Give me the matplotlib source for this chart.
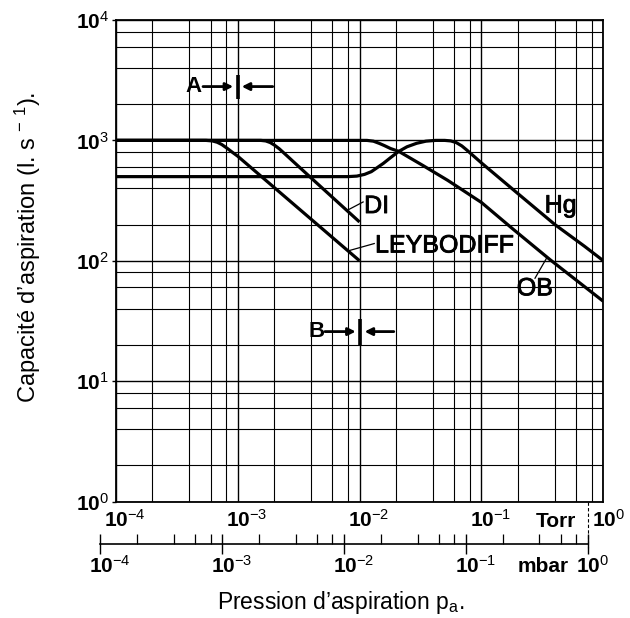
import matplotlib
matplotlib.use("Agg")
import matplotlib.pyplot as plt
from matplotlib.ticker import LogLocator, NullFormatter, FixedLocator
from matplotlib import patheffects as pe

plt.rcParams['font.family'] = ['Liberation Sans', 'DejaVu Sans']
plt.rcParams['mathtext.fontset'] = 'custom'
plt.rcParams['mathtext.rm'] = 'Liberation Sans'
plt.rcParams['mathtext.it'] = 'Liberation Sans:italic'
plt.rcParams['mathtext.bf'] = 'Liberation Sans:bold'

# pression (Torr) / capacite d'aspiration (l/s)
torr_leybodiff = [1e-4, 5.5e-4, 6.2e-4, 6.8e-4, 7.4e-4, 8.2e-4, 9.0e-4, 1.0e-3, 1.0e-2]
s_leybodiff = [1000, 1000, 990, 965, 925, 860, 800, 740, 100]

torr_di = [1e-4, 1.55e-3, 1.7e-3, 1.85e-3, 2.0e-3, 2.2e-3, 2.45e-3, 3.9e-3, 1.0e-2]
s_di = [1000, 1000, 990, 960, 915, 850, 770, 500, 210]

torr_ob = [1e-4, 1.15e-2, 1.3e-2, 1.45e-2, 1.6e-2, 1.8e-2, 2.1e-2, 3.3e-2, 5.3e-2,
           0.1, 0.183, 0.366, 1.0]
s_ob = [1000, 1000, 985, 945, 905, 855, 810, 620, 465, 305, 182, 102, 46]

torr_hg = [1e-4, 8.0e-3, 9.5e-3, 1.1e-2, 1.25e-2, 1.4e-2, 1.57e-2, 1.8e-2, 2.08e-2,
           2.45e-2, 2.94e-2, 3.5e-2, 4.2e-2, 5.0e-2, 5.6e-2, 6.2e-2, 6.9e-2, 7.6e-2,
           0.1, 0.2, 0.4, 0.7, 1.0]
s_hg = [500, 500, 505, 522, 550, 595, 645, 720, 806,
        885, 946, 985, 1000, 1000, 990, 960, 900, 830,
        650, 360, 200, 132, 100]

decades = [1e-4, 1e-3, 1e-2, 1e-1, 1e0]
decade_labels = [r'$\mathbf{10}^{-4}$', r'$\mathbf{10}^{-3}$', r'$\mathbf{10}^{-2}$',
                 r'$\mathbf{10}^{-1}$', r'$\mathbf{10}^{0}$']
y_decades = [1e0, 1e1, 1e2, 1e3, 1e4]
y_labels = [r'$\mathbf{10}^{0}$', r'$\mathbf{10}^{1}$', r'$\mathbf{10}^{2}$',
            r'$\mathbf{10}^{3}$', r'$\mathbf{10}^{4}$']
torr_per_mbar = 0.75

fig = plt.figure(figsize=(6.3, 6.18), dpi=100)
ax = fig.add_axes([0.1837, 0.1885, 0.7740, 0.7791])
ax.set_xscale('log')
ax.set_yscale('log')
ax.set_xlim(1e-4, 1)
ax.set_ylim(1, 1e4)

# grille 1-2-4-6-8
ax.xaxis.set_minor_locator(LogLocator(base=10, subs=[2, 4, 6, 8]))
ax.yaxis.set_minor_locator(LogLocator(base=10, subs=[2, 4, 6, 8]))
ax.xaxis.set_minor_formatter(NullFormatter())
ax.yaxis.set_minor_formatter(NullFormatter())
ax.grid(True, which='major', color='black', lw=1.0)
ax.grid(True, which='minor', color='black', lw=0.8)
for sp in ax.spines.values():
    sp.set_linewidth(1.3)

ax.set_xticks(decades)
ax.set_xticklabels([])
ax.tick_params(axis='x', which='both', length=0)
ax.set_yticks(y_decades)
ax.set_yticklabels(y_labels, fontsize=15)
ax.tick_params(axis='y', which='major', length=3, width=1, pad=2)
ax.tick_params(axis='y', which='minor', length=0)

curve_kw = dict(color='black', lw=2.3, solid_capstyle='butt', solid_joinstyle='round')
ax.plot(torr_leybodiff, s_leybodiff, **curve_kw)
ax.plot(torr_di, s_di, **curve_kw)
ax.plot(torr_ob, s_ob, **curve_kw)
ax.plot(torr_hg, s_hg, **curve_kw)

# etiquettes des courbes
lab_kw = dict(fontsize=18, color='black',
              path_effects=[pe.withStroke(linewidth=0.6, foreground='black')])
ax.text(1.09e-2, 285, 'DI', va='center', ha='left', **lab_kw)
ax.text(1.34e-2, 134, 'LEYBODIFF', va='center', ha='left', **lab_kw)
ax.text(0.33, 288, 'Hg', va='center', ha='left', **lab_kw)
ax.text(0.195, 59, 'OB', va='center', ha='left', **lab_kw)
ax.plot([1.07e-2, 7.9e-3], [308, 262], color='black', lw=0.9)
ax.plot([1.32e-2, 8.1e-3], [139, 121], color='black', lw=0.9)
ax.plot([0.275, 0.344], [71.6, 106], color='black', lw=0.9)

# reperes A et B
arrow_kw = dict(arrowstyle='-|>', color='black', lw=2.0, mutation_scale=11,
                shrinkA=0, shrinkB=0)
ax.plot([1e-3, 1e-3], [2195, 3490], color='black', lw=2.6, solid_capstyle='butt')
ax.annotate('', xy=(9.2e-4, 2800), xytext=(5.2e-4, 2800), arrowprops=arrow_kw)
ax.annotate('', xy=(1.08e-3, 2800), xytext=(1.94e-3, 2800), arrowprops=arrow_kw)
ax.text(4.35e-4, 2800, 'A', fontsize=16, fontweight='bold', ha='center', va='center')
ax.plot([1e-2, 1e-2], [20, 33], color='black', lw=2.6, solid_capstyle='butt')
ax.annotate('', xy=(9.3e-3, 25.8), xytext=(5.2e-3, 25.8), arrowprops=arrow_kw)
ax.annotate('', xy=(1.1e-2, 25.8), xytext=(1.91e-2, 25.8), arrowprops=arrow_kw)
ax.text(4.4e-3, 25.8, 'B', fontsize=16, fontweight='bold', ha='center', va='center')

# echelle en Torr
for v, lab in zip(decades, decade_labels):
    ax.annotate(lab, xy=(v, 0), xycoords=('data', 'axes fraction'), xytext=(-8.3, -18.5),
                textcoords='offset points', ha='left', va='baseline', fontsize=15,
                annotation_clip=False)
ax.annotate('Torr', xy=(0.862, 0), xycoords='axes fraction', xytext=(0, -18.5),
            textcoords='offset points', ha='left', va='baseline', fontsize=15,
            fontweight='bold')
ax.plot([torr_per_mbar, torr_per_mbar], [0, -0.096], transform=ax.get_xaxis_transform(),
        color='black', lw=0.8, ls=(0, (3, 2)), clip_on=False)

# echelle en mbar
axm = fig.add_axes([0.1595, 1 - 544 / 618, 0.7738, 0.0001])
axm.set_xscale('log')
axm.set_xlim(1e-4, 1)
axm.set_yticks([])
for s in ['top', 'left', 'right']:
    axm.spines[s].set_visible(False)
axm.spines['bottom'].set_linewidth(1.2)
axm.xaxis.set_major_locator(FixedLocator(decades))
axm.xaxis.set_minor_locator(LogLocator(base=10, subs=[2, 4, 6, 8]))
axm.xaxis.set_major_formatter(NullFormatter())
axm.xaxis.set_minor_formatter(NullFormatter())
axm.tick_params(axis='x', which='major', direction='inout', length=14, width=1)
axm.tick_params(axis='x', which='minor', direction='in', length=7, width=0.9)
for v, lab in zip(decades, decade_labels):
    axm.annotate(lab, xy=(v, 0), xycoords=('data', 'axes fraction'), xytext=(-8.3, -20.5),
                 textcoords='offset points', ha='left', va='baseline', fontsize=15,
                 annotation_clip=False)
axm.annotate('mbar', xy=(0.856, 0), xycoords='axes fraction', xytext=(0, -20.5),
             textcoords='offset points', ha='left', va='baseline', fontsize=15,
             fontweight='bold')

fig.text(341 / 630, 1 - 603 / 618, 'Pression d\u2019aspiration p$_\\mathregular{a}$.',
         fontsize=16.5, ha='center', va='center')
fig.text(28 / 630, 1 - 247 / 618,
         'Capacit\u00e9 d\u2019aspiration (l. s$^{\\mathregular{\u2009\u2212\u20091}}$).',
         fontsize=17, ha='center', va='center', rotation=90)

fig.savefig('out.png', dpi=100)
